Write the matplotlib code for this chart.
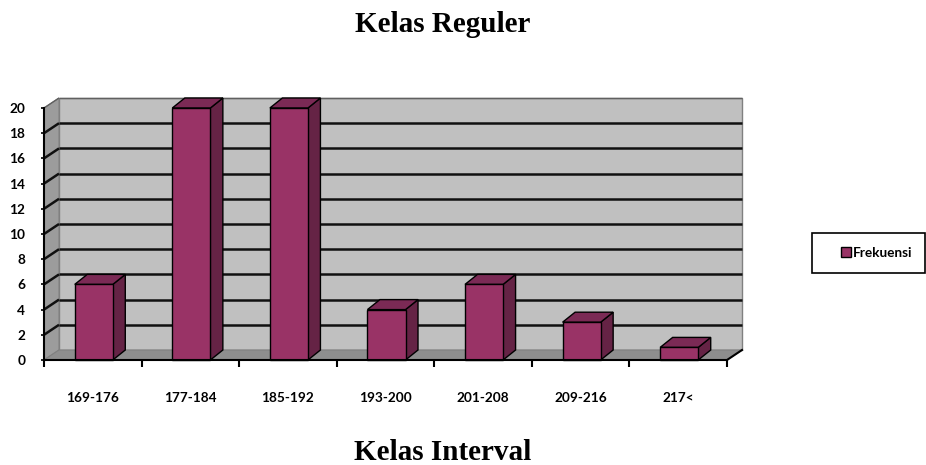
import matplotlib
matplotlib.use('Agg')
import matplotlib.pyplot as plt
from matplotlib.patches import Polygon, Rectangle, Patch

categories = ['169-176', '177-184', '185-192', '193-200', '201-208', '209-216', '217<']
frekuensi = [6, 20, 20, 4, 6, 3, 1]
yticks = list(range(0, 21, 2))
title_top = 'Kelas Reguler'
title_bottom = 'Kelas Interval'
series_name = 'Frekuensi'

W, H = 926, 465
fig = plt.figure(figsize=(W / 100, H / 100), dpi=100)
fig.patch.set_facecolor('white')

ax_l, ax_b, ax_w, ax_h = 44, 360, 683, 252  # pixels
ax = fig.add_axes([ax_l / W, (H - ax_b) / H, ax_w / W, ax_h / H])
n = len(categories)
ymax = yticks[-1]
ax.set_xlim(0, n)
ax.set_ylim(0, ymax)
ax.set_facecolor('none')

# depth offsets (pixels -> data)
px_x = n / ax_w
px_y = ymax / ax_h
DX, DY = 15 * px_x, 10 * px_y
BDX, BDY = 12.5 * px_x, 10 * px_y

# walls
ax.add_patch(Polygon([(DX, DY), (n + DX, DY), (n + DX, ymax + DY), (DX, ymax + DY)],
                     closed=True, fc='#c0c0c0', ec='#808080', lw=1.0, zorder=1, clip_on=False))
ax.add_patch(Polygon([(0, 0), (DX, DY), (DX, ymax + DY), (0, ymax)],
                     closed=True, fc='#9c9c9c', ec='#808080', lw=0.8, zorder=1, clip_on=False))
ax.add_patch(Polygon([(0, 0), (n, 0), (n + DX, DY), (DX, DY)],
                     closed=True, fc='#8e8e8e', ec='#808080', lw=0.8, zorder=1, clip_on=False))

# gridlines
for v in yticks[1:]:
    c = '#101010' if v < ymax else '#606060'
    lw = 1.8 if v < ymax else 1.0
    ax.plot([DX, n + DX], [v + DY, v + DY], color=c, lw=lw, zorder=2, clip_on=False,
            solid_capstyle='butt')
    ax.plot([0, DX], [v, v + DY], color=c, lw=lw, zorder=2, clip_on=False,
            solid_capstyle='butt')

# bars
bw = 0.39
for i, v in enumerate(frekuensi):
    x0 = i + 0.315
    ax.add_patch(Polygon([(x0 + bw, 0), (x0 + bw + BDX, BDY), (x0 + bw + BDX, v + BDY), (x0 + bw, v)],
                         closed=True, fc='#652345', ec='black', lw=1.0, zorder=4, clip_on=False))
    ax.add_patch(Polygon([(x0, v), (x0 + bw, v), (x0 + bw + BDX, v + BDY), (x0 + BDX, v + BDY)],
                         closed=True, fc='#7b2a55', ec='black', lw=1.0, zorder=4, clip_on=False))
    ax.add_patch(Rectangle((x0, 0), bw, v, fc='#993366', ec='black', lw=1.0, zorder=5, clip_on=False))

# x-axis right diagonal
ax.plot([n, n + DX], [0, DY], color='black', lw=1.5, zorder=3, clip_on=False)

for s in ['top', 'right']:
    ax.spines[s].set_visible(False)
for s in ['left', 'bottom']:
    ax.spines[s].set_color('black')
    ax.spines[s].set_linewidth(1.5)
    ax.spines[s].set_zorder(6)

tick_font = dict(family=['Lato', 'DejaVu Sans'], weight='bold', size=9.8)
ax.set_yticks(yticks)
ax.set_yticklabels([str(t) for t in yticks], fontdict=tick_font)
ax.tick_params(axis='y', direction='out', length=2.5, width=1.2, pad=11)

ax.set_xticks(range(n + 1))
ax.set_xticklabels([''] * (n + 1))
ax.set_xticks([i + 0.5 for i in range(n)], minor=True)
ax.set_xticklabels(categories, minor=True, fontdict=tick_font)
ax.tick_params(axis='x', which='major', direction='out', length=5, width=1.5)
ax.tick_params(axis='x', which='minor', length=0, pad=23)

# titles
title_font = dict(family=['Liberation Serif', 'DejaVu Serif'], weight='bold', size=21)
fig.text(443 / W, 1 - 32 / H, title_top, ha='center', va='baseline', fontdict=title_font)
fig.text(443 / W, 1 - 460 / H, title_bottom, ha='center', va='baseline', fontdict=title_font)

# legend
fig.patches.append(Rectangle((812 / W, (H - 273) / H), 113 / W, 40 / H, transform=fig.transFigure,
                             fc='white', ec='black', lw=1.2))
fig.legend(handles=[Patch(fc='#993366', ec='black', lw=1.0)], labels=[series_name],
           loc='center', bbox_to_anchor=(877 / W, 1 - 253 / H), frameon=False,
           handlelength=0.7, handleheight=0.7, handletextpad=0.2, borderpad=0,
           prop=dict(family=['Lato', 'DejaVu Sans'], weight='bold', size=9.8))

fig.savefig('out.png', dpi=100)
